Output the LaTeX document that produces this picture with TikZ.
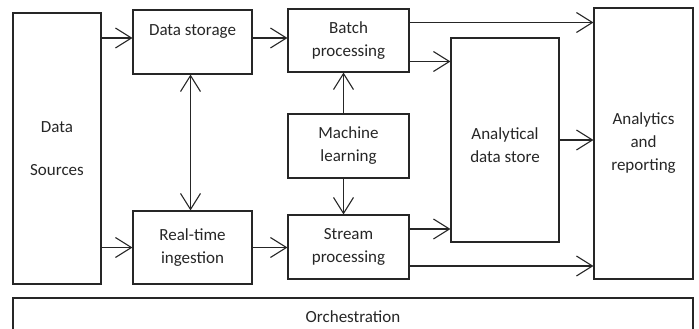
\documentclass[tikz,border=0pt]{standalone}
\usepackage{fontspec}
\setmainfont{Carlito}
\usetikzlibrary{arrows.meta}
\tikzset{
  box/.style={draw=black!85, line width=1.1pt, text=black!85, align=center,
    font=\fontsize{17}{23}\selectfont, inner sep=2pt},
  barb/.tip={Straight Barb[length=16pt,width=20pt,line width=1.1pt]},
  arr/.style={-barb, draw=black!85, line width=1.1pt},
}
\begin{document}
\begin{tikzpicture}[x=1pt, y=-1pt]
          \useasboundingbox (0,0) rectangle (699,329);
          \clip (0,0) rectangle (699,329);
          \begin{scope}[every node/.style={box}]
          \node[minimum width=88pt, minimum height=271pt] (src) at (57,148.5) {Data\\[20pt]Sources};
          \node[minimum width=119pt, minimum height=64pt] (store) at (192.5,42) {Data storage\\~};
          \node[minimum width=119pt, minimum height=73pt] (rt) at (192.5,247.5) {Real-time\\ingestion};
          \node[minimum width=121pt, minimum height=63pt] (batch) at (348.5,40.5) {Batch\\processing};
          \node[minimum width=121pt, minimum height=64pt] (ml) at (348.5,146) {Machine\\learning};
          \node[minimum width=121pt, minimum height=64pt] (stream) at (348.5,247) {Stream\\processing};
          \node[minimum width=108pt, minimum height=204pt] (ads) at (505,140) {~\\Analytical\\data store};
          \node[minimum width=99pt, minimum height=271pt] (ar) at (643.5,143.5) {Analytics\\and\\reporting};
          \node[minimum width=680pt, minimum height=60pt] (orch) at (353,328) {Orchestration\\~};
          \end{scope}

          \draw [arr] ([yshift=4pt]src.east |- store.west) -- ([yshift=4pt]store.west);
          \draw [arr] (src.east |- rt.west) -- (rt.west);
          \draw [arr] ([yshift=4pt]store.east) -- ([yshift=4pt]store.east -| batch.west);
          \draw [arr] (rt.east) -- (rt.east -| stream.west);
          \draw [arr, barb-barb] ([xshift=-2pt]store.south) -- ([xshift=-2pt]rt.north);
          \draw [arr] ([xshift=-5pt]ml.north) -- ([xshift=-5pt]batch.south);
          \draw [arr] ([xshift=-5pt]ml.south) -- ([xshift=-5pt]stream.north);
          \draw [arr] ([yshift=18pt]batch.east) -- ([yshift=18pt]batch.east -| ar.west);
          \draw [arr] ([yshift=-21pt]batch.east) -- ([yshift=-21pt]batch.east -| ads.west);
          \draw [arr] (ads.east) -- (ads.east -| ar.west);
          \draw [arr] ([yshift=18pt]stream.east) -- ([yshift=18pt]stream.east -| ads.west);
          \draw [arr] ([yshift=-19pt]stream.east) -- ([yshift=-19pt]stream.east -| ar.west);
\end{tikzpicture}
\end{document}
